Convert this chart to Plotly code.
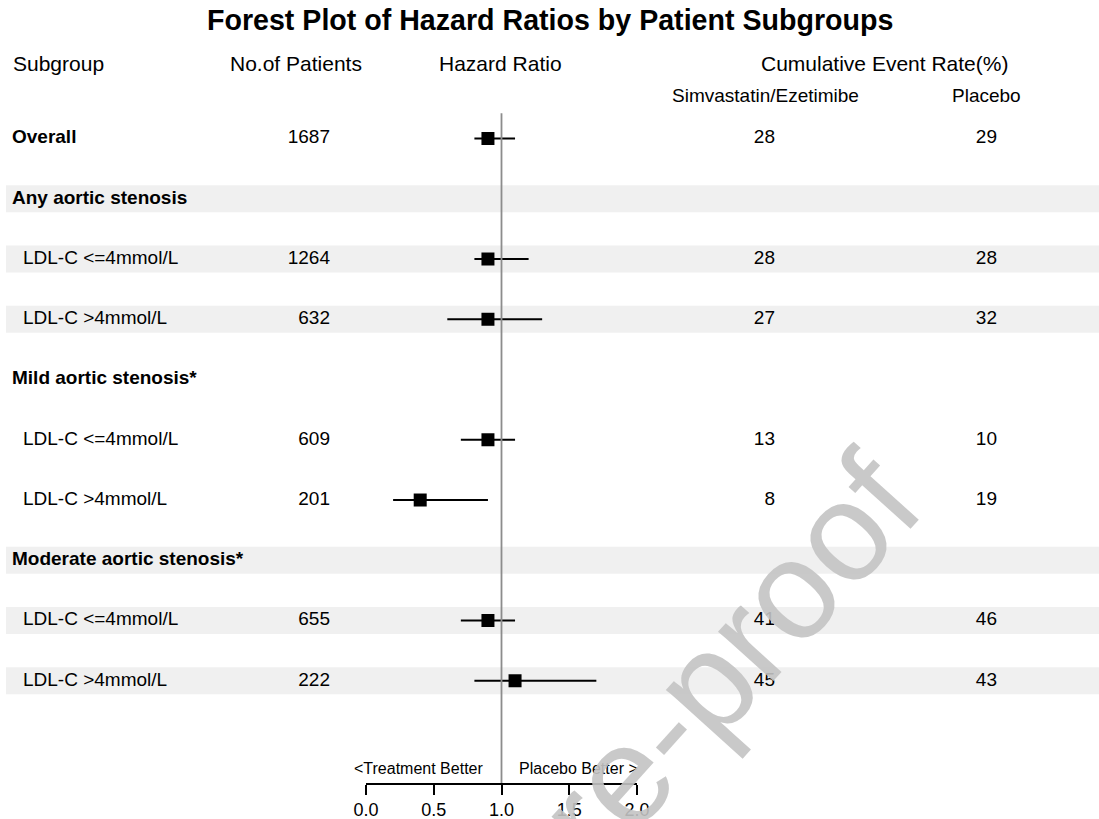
import plotly.graph_objects as go

# ---------------- data ----------------
labels = ["Overall", "Any aortic stenosis", "LDL-C <=4mmol/L", "LDL-C >4mmol/L",
          "Mild aortic stenosis*", "LDL-C <=4mmol/L", "LDL-C >4mmol/L",
          "Moderate aortic stenosis*", "LDL-C <=4mmol/L", "LDL-C >4mmol/L"]
is_group = [True, True, False, False, True, False, False, True, False, False]
patients = ["1687", "", "1264", "632", "", "609", "201", "", "655", "222"]
sim_rate = ["28", "", "28", "27", "", "13", "8", "", "41", "45"]
pla_rate = ["29", "", "28", "32", "", "10", "19", "", "46", "43"]
hr = [0.9, None, 0.9, 0.9, None, 0.9, 0.4, None, 0.9, 1.1]
hr_lo = [0.8, None, 0.8, 0.6, None, 0.7, 0.2, None, 0.7, 0.8]
hr_hi = [1.1, None, 1.2, 1.3, None, 1.1, 0.9, None, 1.1, 1.7]
shaded = [False, True, True, True, False, False, False, True, True, True]
tick_vals = [0.0, 0.5, 1.0, 1.5, 2.0]
tick_text = ["0.0", "0.5", "1.0", "1.5", "2.0"]

FONT = "Liberation Sans, Arial, sans-serif"
W, H = 1099, 819
row_idx = list(range(len(labels)))

fig = go.Figure()

# subgroup labels
fig.add_trace(go.Scatter(
    x=[12 if g else 23 for g in is_group], y=row_idx,
    text=[f"<b>{l}</b>" if g else l for l, g in zip(labels, is_group)],
    mode="text", textposition="middle right", marker=dict(size=0),
    textfont=dict(family=FONT, size=19, color="black"),
    xaxis="x2", yaxis="y", hoverinfo="skip", showlegend=False))

# patients
fig.add_trace(go.Scatter(
    x=[330] * len(patients), y=row_idx, text=patients,
    mode="text", textposition="middle left", marker=dict(size=0),
    textfont=dict(family=FONT, size=19, color="black"),
    xaxis="x2", yaxis="y", hoverinfo="skip", showlegend=False))

# event rates
fig.add_trace(go.Scatter(
    x=[775] * len(sim_rate), y=row_idx, text=sim_rate,
    mode="text", textposition="middle left", marker=dict(size=0),
    textfont=dict(family=FONT, size=19, color="black"),
    xaxis="x2", yaxis="y", hoverinfo="skip", showlegend=False))
fig.add_trace(go.Scatter(
    x=[997] * len(pla_rate), y=row_idx, text=pla_rate,
    mode="text", textposition="middle left", marker=dict(size=0),
    textfont=dict(family=FONT, size=19, color="black"),
    xaxis="x2", yaxis="y", hoverinfo="skip", showlegend=False))

# hazard ratios
pts = [(i, h, l, u) for i, h, l, u in zip(row_idx, hr, hr_lo, hr_hi) if h is not None]
fig.add_trace(go.Scatter(
    x=[p[1] for p in pts], y=[p[0] for p in pts], mode="markers",
    marker=dict(symbol="square", size=13, color="black", line=dict(width=0)),
    error_x=dict(type="data", symmetric=False,
                 array=[p[3] - p[1] for p in pts],
                 arrayminus=[p[1] - p[2] for p in pts],
                 width=0, thickness=2, color="black"),
    xaxis="x", yaxis="y", hoverinfo="skip", showlegend=False))

# shaded bands
shapes = []
for i, s in zip(row_idx, shaded):
    if s:
        shapes.append(dict(type="rect", xref="paper", yref="y", x0=6 / W, x1=1,
                           y0=i - 0.225, y1=i + 0.225, fillcolor="#f0f0f0",
                           line=dict(width=0), layer="below"))
# reference line at HR = 1
shapes.append(dict(type="line", xref="x", yref="y", x0=1, x1=1, y0=-0.42, y1=10.697,
                   line=dict(color="#8c8c8c", width=1.8), layer="above"))

annotations = [
    dict(text="<b>Forest Plot of Hazard Ratios by Patient Subgroups</b>", x=550 / W, y=1 - 20 / H,
         font=dict(family=FONT, size=28.6, color="black")),
    dict(text="Subgroup", x=11 / W, y=1 - 64 / H, xanchor="left",
         font=dict(family=FONT, size=21, color="black")),
    dict(text="No.of Patients", x=296 / W, y=1 - 64 / H,
         font=dict(family=FONT, size=21, color="black")),
    dict(text="Hazard Ratio", x=500 / W, y=1 - 64 / H,
         font=dict(family=FONT, size=21, color="black")),
    dict(text="Cumulative Event Rate(%)", x=884 / W, y=1 - 64 / H,
         font=dict(family=FONT, size=21, color="black")),
    dict(text="Simvastatin/Ezetimibe", x=765 / W, y=1 - 95 / H,
         font=dict(family=FONT, size=19, color="black")),
    dict(text="Placebo", x=986 / W, y=1 - 95 / H,
         font=dict(family=FONT, size=19, color="black")),
    dict(text="<Treatment Better", x=485 / W, y=1 - 768 / H, xanchor="right",
         font=dict(family=FONT, size=16, color="black")),
    dict(text="Placebo Better >", x=517 / W, y=1 - 768 / H, xanchor="left",
         font=dict(family=FONT, size=16, color="black")),
    dict(text="Journal Pre-proof", x=530 / W, y=1 - 878 / H, textangle=-48,
         font=dict(family=FONT, size=140, color="rgba(195,195,195,0.9)")),
]
for a in annotations:
    a.setdefault("xref", "paper")
    a.setdefault("yref", "paper")
    a.setdefault("showarrow", False)
    a.setdefault("xanchor", "center")
    a.setdefault("yanchor", "middle")

fig.update_layout(
    width=W, height=H, margin=dict(l=0, r=0, t=0, b=0, pad=0, autoexpand=False),
    paper_bgcolor="white", plot_bgcolor="rgba(0,0,0,0)",
    font=dict(family=FONT, color="black"),
    xaxis=dict(domain=[366 / W, 637 / W], range=[0, 2], anchor="y",
               tickvals=tick_vals, ticktext=tick_text, ticks="outside", ticklen=10,
               tickwidth=1.5, tickcolor="black", showline=True, linecolor="black",
               linewidth=1.5, showgrid=False, zeroline=False,
               tickfont=dict(family=FONT, size=18, color="black")),
    xaxis2=dict(domain=[0, 1], range=[0, W], anchor="y",
                visible=False, showgrid=False, zeroline=False),
    yaxis=dict(domain=[(H - 783) / H, 1], range=[10.697, -2.299], visible=False,
               showgrid=False, zeroline=False),
    shapes=shapes, annotations=annotations,
)

fig.write_html("out.html", config={"displayModeBar": False},
               post_script="document.body.style.margin='0';document.body.style.overflow='hidden';")
